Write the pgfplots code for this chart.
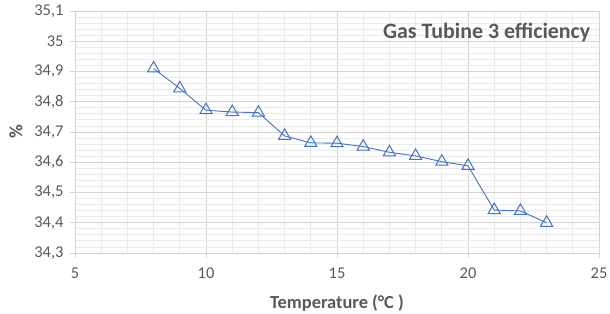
\documentclass[border=0pt]{standalone}
\usepackage{pgfplots}
\pgfplotsset{compat=1.18}
\usepackage{fontspec}
\setmainfont{Carlito}
\definecolor{txt}{HTML}{595959}
\definecolor{major}{HTML}{D4D4D4}
\definecolor{minor}{HTML}{EBEBEB}
\definecolor{ser}{HTML}{4472C4}
\begin{document}
\begin{tikzpicture}[x=1bp,y=1bp]
\begin{axis}[
  at={(0,0)}, anchor=south west,
  scale only axis,
  width=524bp, height=242bp,
  xmin=5, xmax=25, ymin=34.3, ymax=35.1,
  xtick={5,10,...,25},
  minor xtick={6,7,8,9,11,12,13,14,16,17,18,19,21,22,23,24},
  ytick={34.3,34.4,...,35.1},
  minor y tick num=4,
  grid=both,
  major grid style={major, line width=1bp},
  minor grid style={minor, line width=0.9bp},
  axis line style={major, line width=1bp},
  tick style={major, line width=1bp},
  major tick length=5bp, minor tick length=0pt,
  tick align=outside,
  xtick pos=bottom, ytick pos=left,
  /pgf/number format/assume math mode=true,
  /pgf/number format/use comma,
  yticklabel style={/pgf/number format/fixed,/pgf/number format/precision=1, font=\fontsize{16.5}{18}\selectfont, text=txt, xshift=-3bp},
  xticklabel style={font=\fontsize{16.5}{18}\selectfont, text=txt, yshift=-6bp},
  xlabel={\textbf{Temperature (°C )}},
  ylabel={\textbf{\%}},
  xlabel style={font=\fontsize{18.5}{20}\selectfont, text=txt, yshift=-10bp},
  ylabel style={font=\fontsize{19}{20}\selectfont, text=txt, yshift=5bp},
]
\addplot[color=ser, line width=0.9bp, mark=triangle, mark size=7bp, mark options={line width=1bp, fill=white}]
coordinates {
(8,34.910) (9,34.844) (10,34.772) (11,34.766) (12,34.764) (13,34.687)
(14,34.664) (15,34.663) (16,34.652) (17,34.633) (18,34.621) (19,34.602)
(20,34.588) (21,34.442) (22,34.439) (23,34.400)
};
\node[anchor=north east, font=\fontsize{22}{24}\selectfont\bfseries, text=txt] at (rel axis cs:0.99,0.965) {Gas Tubine 3 efficiency};
\end{axis}
\pgfresetboundingbox
\path (-75bp,-61bp) rectangle (535bp,253bp);
\end{tikzpicture}
\end{document}
